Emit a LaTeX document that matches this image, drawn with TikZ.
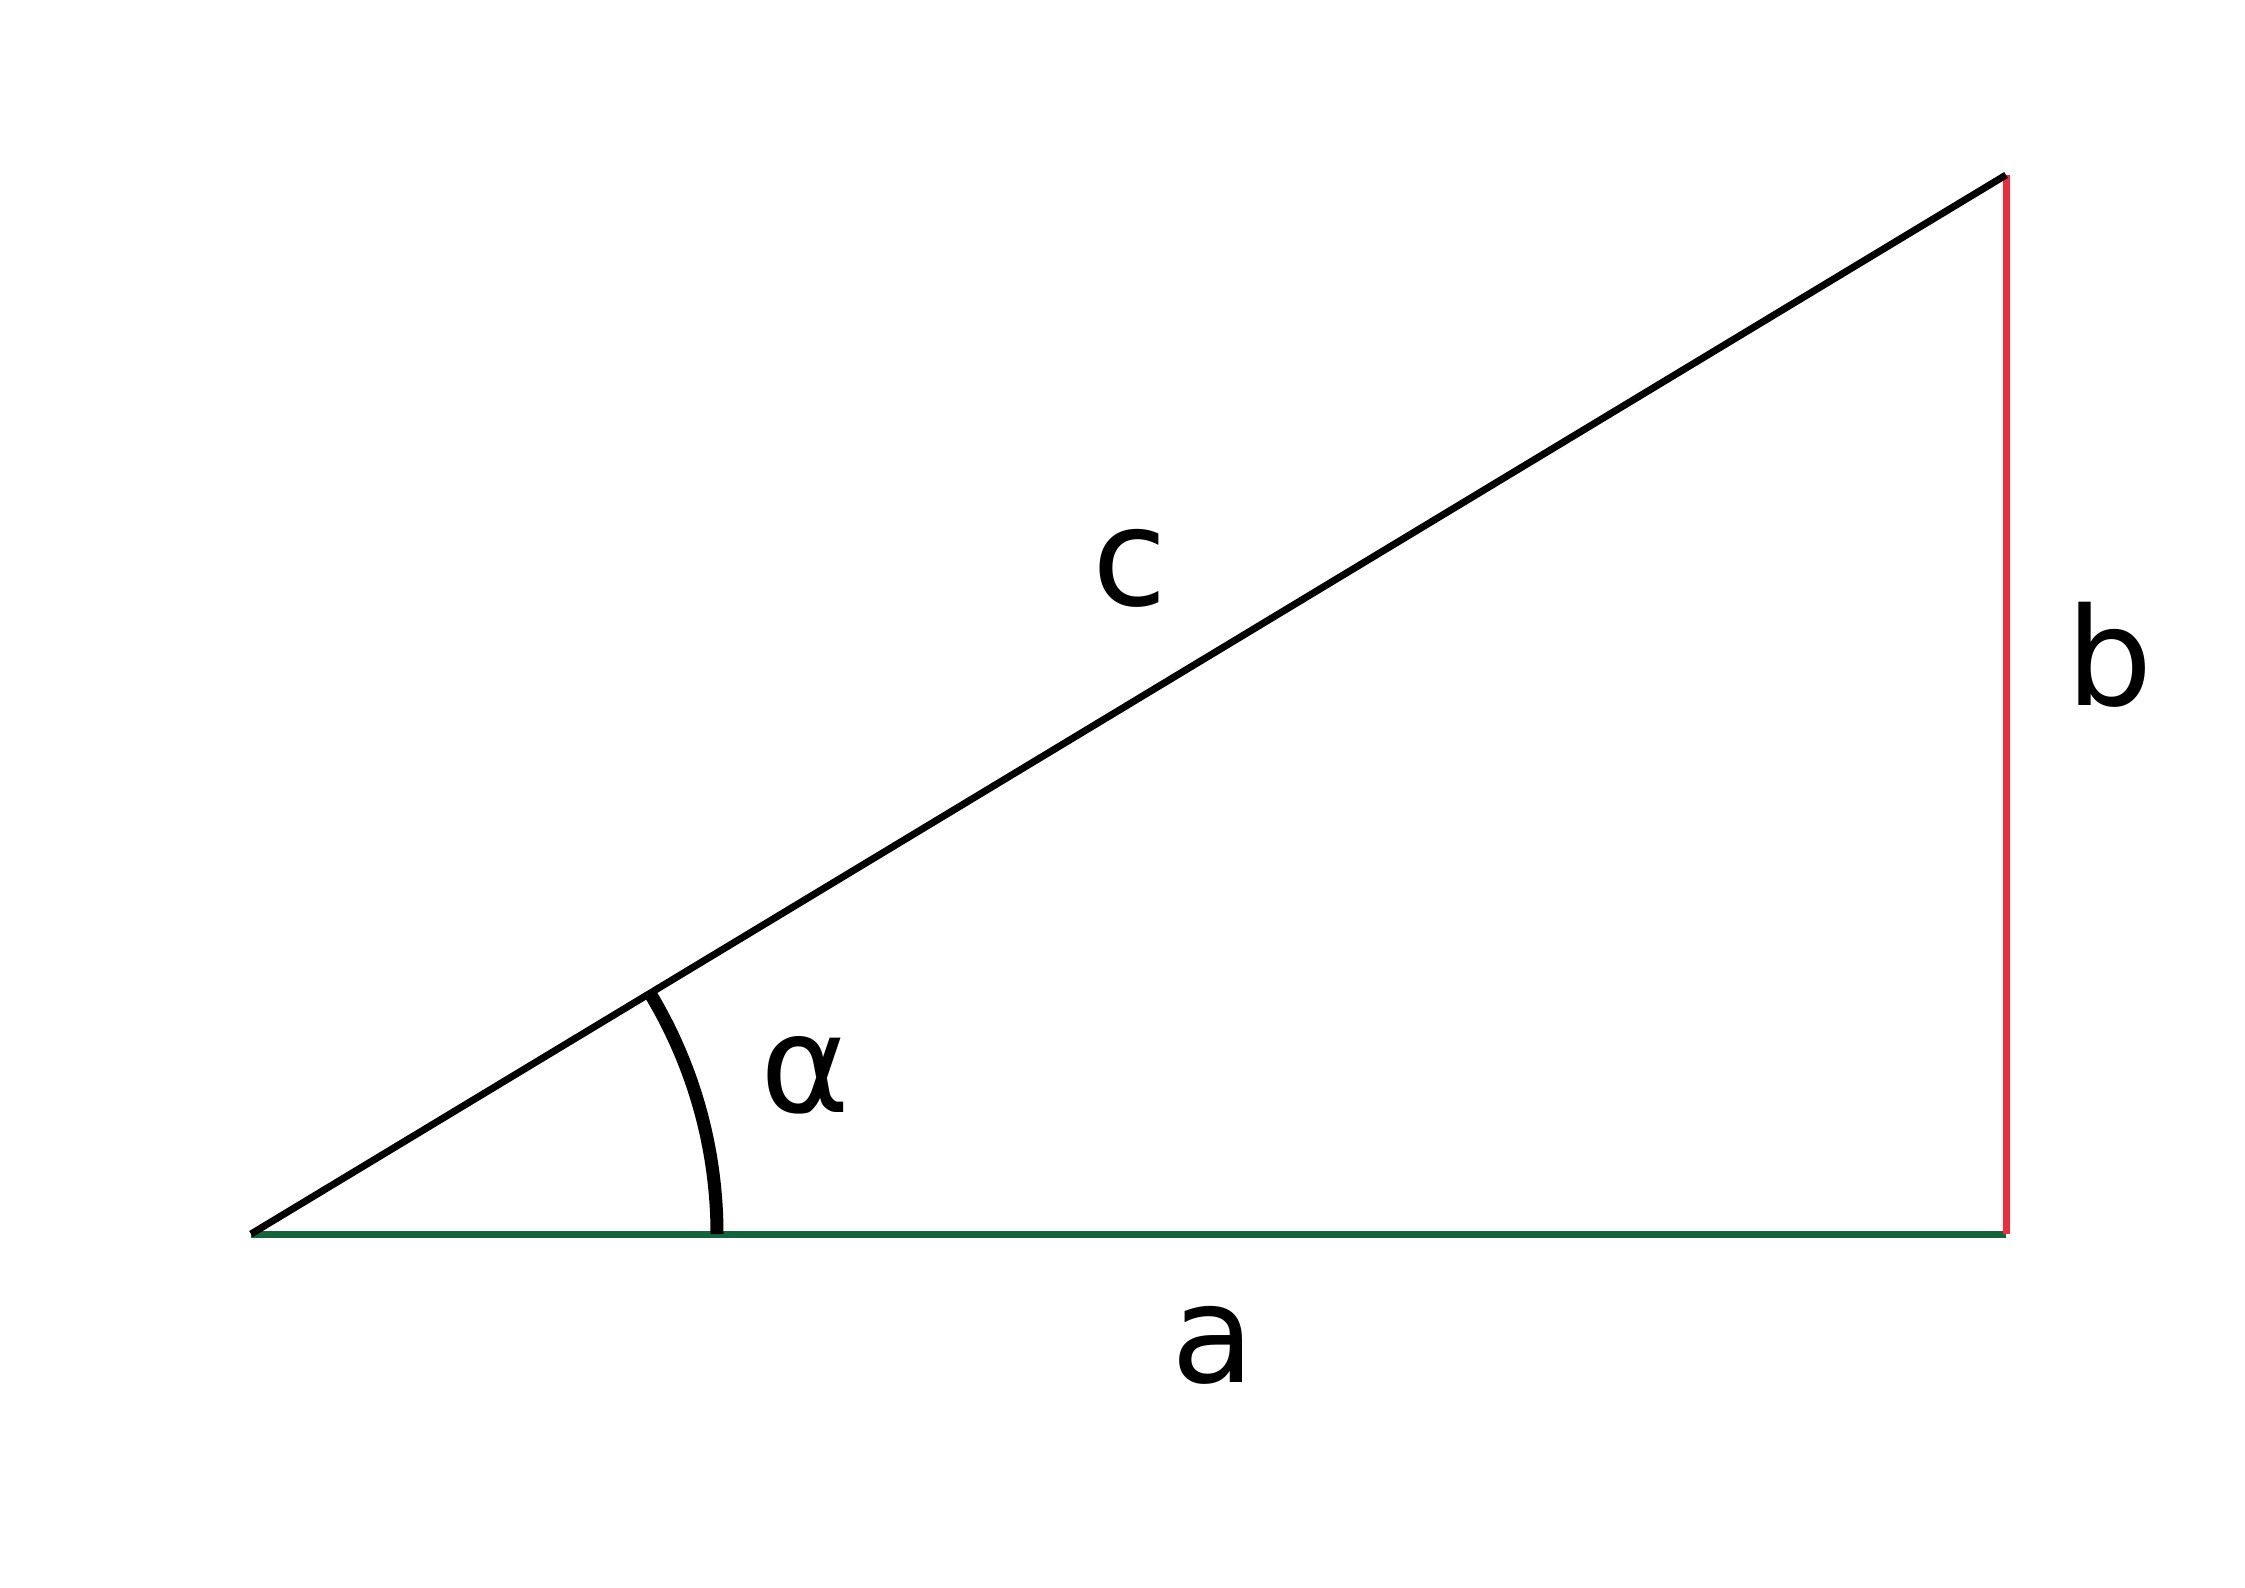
\documentclass[tikz,border=0pt]{standalone}
\usepackage{fontspec}
\setmainfont{DejaVu Sans}
\definecolor{gr}{RGB}{22,100,60}
\definecolor{rd}{RGB}{235,45,60}
\begin{document}
\begin{tikzpicture}[x=1pt,y=-1pt,lbl/.style={font=\fontsize{136}{160}\selectfont,inner sep=0pt}]
\useasboundingbox (0,0) rectangle (2245,1587);
\coordinate (A) at (251,1234);
\coordinate (B) at (2006,1234);
\coordinate (C) at (2006,175);
\draw[gr,line width=7] (A) -- (B);
\draw[rd,line width=7] (B) -- (C);
\draw[black,line width=7] (A) -- (C);
\draw[black,line width=13] ([shift={(0:466)}]A) arc[start angle=0,end angle=-31.1,radius=466];
\node[lbl] (c) at (1130,568) {c};
\node[lbl] (b) at (2110,655) {b};
\node[lbl] (a) at (1213,1345) {a};
\node[lbl] (al) at (805,1075) {α};
\end{tikzpicture}
\end{document}
